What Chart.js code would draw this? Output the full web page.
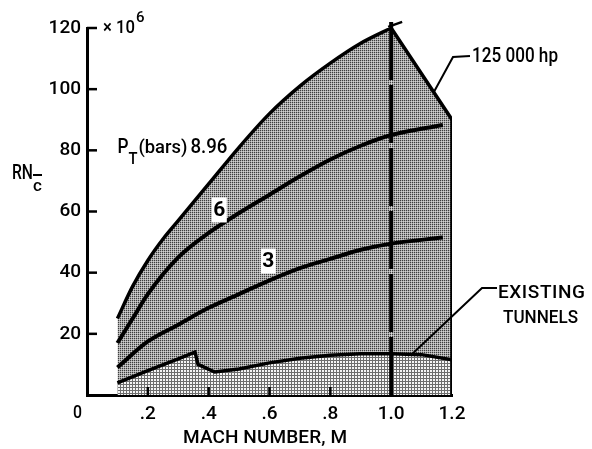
<!DOCTYPE html>
<html>
<head>
<meta charset="utf-8">
<script src="https://cdn.jsdelivr.net/npm/chart.js@4.4.1/dist/chart.umd.min.js"></script>
<style>
  body { margin: 0; background: #fff; }
</style>
</head>
<body>
<canvas id="myChart" width="592" height="449"></canvas>
<script>
// curva superior P_T = 8.96 bars
const machTop = [0.1, 0.15, 0.2, 0.25, 0.3, 0.4, 0.5, 0.6, 0.7, 0.8, 0.9, 1.0];
const rnTop = [25, 35.5, 44, 51, 57, 69, 81, 92, 101, 108.5, 115, 120];
// limite de potencia 125 000 hp
const machHp = [1.0, 1.2, 1.2];
const rnHp = [120, 90, 0];
// P_T = 6
const mach6 = [0.1, 0.15, 0.2, 0.3, 0.4, 0.5, 0.6, 0.7, 0.8, 0.9, 1.0, 1.17];
const rn6 = [17, 25, 33, 45, 53, 59.5, 65.5, 71.5, 77, 81.5, 85, 88.3];
// P_T = 3
const mach3 = [0.1, 0.2, 0.3, 0.4, 0.5, 0.6, 0.7, 0.8, 0.9, 1.0, 1.17];
const rn3 = [9, 17.5, 23, 28.5, 33, 37.5, 41.5, 44.5, 47.5, 49.5, 51.5];
// tuneles existentes
const machTun = [0.1, 0.2, 0.3, 0.355, 0.365, 0.42, 0.5, 0.6, 0.7, 0.8, 0.9, 1.0, 1.1, 1.2];
const rnTun = [4, 8, 11.8, 14, 10, 7.5, 8.5, 10.5, 12, 13, 13.5, 13.5, 13.2, 11.5];
// linea vertical M = 1.0
const machRef = [1.0, 1.0];
const rnRef = [0, 122];

const xTickLabels = ['0', '.2', '.4', '.6', '.8', '1.0', '1.2'];
const yTickLabels = ['', '20', '40', '60', '80', '100', '120'];

const FONT = "Roboto, 'Liberation Sans', sans-serif";

const toPoints = (xs, ys) => xs.map((m, i) => ({x: m, y: ys[i]}));

//texturas de trama
const makePattern = (size, draw) => {
    const c = document.createElement('canvas');
    c.width = size;
    c.height = size;
    const g = c.getContext('2d');
    draw(g);
    return g.createPattern(c, 'repeat');
}

const darkTone = makePattern(2, g => {
    g.fillStyle = '#a8a8a8';
    g.fillRect(0, 0, 2, 2);
    g.fillStyle = '#3c3c3c';
    g.fillRect(0, 0, 1, 1);
    g.fillStyle = '#d0d0d0';
    g.fillRect(1, 1, 1, 1);
});

const lightTone = makePattern(3, g => {
    g.fillStyle = '#f6f6f6';
    g.fillRect(0, 0, 3, 3);
    g.fillStyle = '#6e6e6e';
    g.fillRect(0, 0, 3, 1);
    g.fillRect(0, 0, 1, 3);
});

const line = (ctx, pts) => {
    ctx.beginPath();
    ctx.moveTo(pts[0][0], pts[0][1]);
    pts.slice(1).forEach(p => ctx.lineTo(p[0], p[1]));
    ctx.stroke();
}

//texto ajustado a un ancho: comprime o espacia
const fitText = (ctx, text, x, y, width) => {
    ctx.letterSpacing = '0px';
    const w = ctx.measureText(text).width;
    if (w > width) {
        ctx.save();
        ctx.translate(x, y);
        ctx.scale(width / w, 1);
        ctx.fillText(text, 0, 0);
        ctx.restore();
    } else {
        const sp = text.length > 1 ? (width - w) / (text.length - 1) : 0;
        ctx.letterSpacing = sp + 'px';
        ctx.fillText(text, x, y);
        ctx.letterSpacing = '0px';
    }
}

//anotaciones, ticks interiores y textos
const decoPlugin = {
    id: 'deco',
    afterDatasetsDraw(chart) {
        const {ctx, scales: {x, y}, chartArea: a} = chart;
        ctx.save();
        ctx.strokeStyle = '#000';
        ctx.fillStyle = '#000';
        ctx.lineCap = 'butt';

        // ticks hacia adentro
        ctx.lineWidth = 2.5;
        y.ticks.forEach(t => {
            if (t.value > 0) {
                const py = y.getPixelForValue(t.value);
                line(ctx, [[a.left, py], [a.left + 10, py]]);
            }
        });
        x.ticks.forEach(t => {
            if (t.value > 0.01 && t.value < 0.95) {
                const px = x.getPixelForValue(t.value);
                line(ctx, [[px, a.bottom], [px, a.bottom - 8]]);
            }
        });

        // marca corta en el extremo de M = 1.0
        const mx = x.getPixelForValue(1.0);
        const my = y.getPixelForValue(121);
        line(ctx, [[mx - 3, my + 2], [mx + 11, my - 3]]);

        ctx.textBaseline = 'alphabetic';
        ctx.textAlign = 'left';

        // "0" del eje x, corrido a la izquierda
        ctx.font = `500 19px ${FONT}`;
        fitText(ctx, xTickLabels[0], x.getPixelForValue(0) - 14, 418, 9);

        // x 10^6
        ctx.font = `500 18px ${FONT}`;
        fitText(ctx, '\u00d7 10', a.left + 16, a.top + 5, 32);
        ctx.font = `500 15px ${FONT}`;
        ctx.fillText('6', a.left + 49, a.top - 6);

        // RN c
        ctx.font = `500 20px ${FONT}`;
        fitText(ctx, 'RN', 12, 179, 21);
        ctx.font = `500 17px ${FONT}`;
        ctx.fillText('c', 33, 191);
        ctx.lineWidth = 2;
        line(ctx, [[33, 175], [42, 175]]);

        // P_T(bars) 8.96
        const px0 = x.getPixelForValue(0.1);
        const py0 = y.getPixelForValue(80) + 3;
        ctx.font = `500 20px ${FONT}`;
        fitText(ctx, 'P', px0, py0, 11);
        ctx.font = `500 16px ${FONT}`;
        fitText(ctx, 'T', px0 + 11, py0 + 11, 9);
        ctx.font = `500 19px ${FONT}`;
        fitText(ctx, '(bars)', px0 + 21, py0, 49);
        ctx.font = `500 20px ${FONT}`;
        fitText(ctx, '8.96', px0 + 73, py0, 37);

        // etiquetas en caja blanca
        const boxLabel = (txt, bmx, rv) => {
            const bx = x.getPixelForValue(bmx);
            const by = y.getPixelForValue(rv);
            ctx.fillStyle = '#fff';
            ctx.fillRect(bx - 7.5, by - 12.5, 15, 25);
            ctx.fillStyle = '#000';
            ctx.font = `bold 21px ${FONT}`;
            ctx.textAlign = 'center';
            ctx.textBaseline = 'middle';
            ctx.fillText(txt, bx, by + 1);
            ctx.textAlign = 'left';
            ctx.textBaseline = 'alphabetic';
        }
        boxLabel('6', 0.435, 60.5);
        boxLabel('3', 0.596, 43.8);

        // 125 000 hp
        ctx.lineWidth = 2;
        const hx = x.getPixelForValue(1.14);
        const hy = y.getPixelForValue(99);
        line(ctx, [[hx, hy], [a.right + 1, 57], [a.right + 18, 56]]);
        ctx.font = `500 20px ${FONT}`;
        fitText(ctx, '125 000 hp', a.right + 20, 62, 86);

        // EXISTING TUNNELS
        const tx = x.getPixelForValue(1.07);
        const ty = y.getPixelForValue(13.5);
        line(ctx, [[tx, ty], [a.right + 30, 288], [a.right + 45, 288]]);
        ctx.font = `500 19px ${FONT}`;
        fitText(ctx, 'EXISTING', a.right + 46, 298, 87);
        fitText(ctx, 'TUNNELS', a.right + 51, 323, 75);

        // titulo eje x
        ctx.font = `500 19px ${FONT}`;
        fitText(ctx, 'MACH NUMBER, M', 183, 443, 164);

        ctx.restore();
    }
};

const baseLine = {
    pointRadius: 0,
    borderColor: '#000',
    backgroundColor: 'transparent',
    fill: false
};

const ctx = document.getElementById('myChart').getContext('2d');
window.myChart = new Chart(ctx, {
    type: 'line',
    data: {
        datasets: [
            {...baseLine, label: 'M = 1.0', data: toPoints(machRef, rnRef), borderWidth: 4, borderDash: [58, 5], clip: false},
            {...baseLine, label: '3', data: toPoints(mach3, rn3), borderWidth: 4, cubicInterpolationMode: 'monotone'},
            {...baseLine, label: '6', data: toPoints(mach6, rn6), borderWidth: 4, cubicInterpolationMode: 'monotone'},
            {...baseLine, label: 'Existing tunnels', data: toPoints(machTun, rnTun), borderWidth: 3.5, tension: 0, fill: 'origin', backgroundColor: lightTone},
            {...baseLine, label: '125 000 hp', data: toPoints(machHp, rnHp), borderWidth: 3.5, tension: 0, fill: 'origin', backgroundColor: darkTone},
            {...baseLine, label: '8.96', data: toPoints(machTop, rnTop), borderWidth: 3.5, cubicInterpolationMode: 'monotone', fill: 'origin', backgroundColor: darkTone}
        ]
    },
    options: {
        responsive: false,
        animation: false,
        devicePixelRatio: 1,
        layout: {padding: {left: 0, top: 28, right: 140, bottom: 0}},
        plugins: {
            legend: {display: false},
            tooltip: {enabled: false},
            filler: {drawTime: 'beforeDatasetsDraw'}
        },
        scales: {
            x: {
                type: 'linear',
                min: 0,
                max: 1.2,
                afterFit: s => { s.height = 54; },
                grid: {display: false, drawTicks: false},
                border: {display: true, width: 3, color: '#000'},
                ticks: {
                    stepSize: 0.2,
                    padding: 8,
                    color: '#000',
                    maxRotation: 0,
                    autoSkip: false,
                    font: {family: FONT, size: 19, weight: 500},
                    callback: (v, i) => i === 0 ? '' : xTickLabels[i]
                }
            },
            y: {
                min: 0,
                max: 120,
                afterFit: s => { s.width = 87; },
                grid: {display: false, drawTicks: false},
                border: {display: true, width: 3, color: '#000'},
                ticks: {
                    stepSize: 20,
                    padding: 6,
                    color: '#000',
                    font: {family: FONT, size: 19, weight: 500},
                    callback: (v, i) => yTickLabels[i]
                }
            }
        }
    },
    plugins: [decoPlugin]
});
</script>
</body>
</html>
